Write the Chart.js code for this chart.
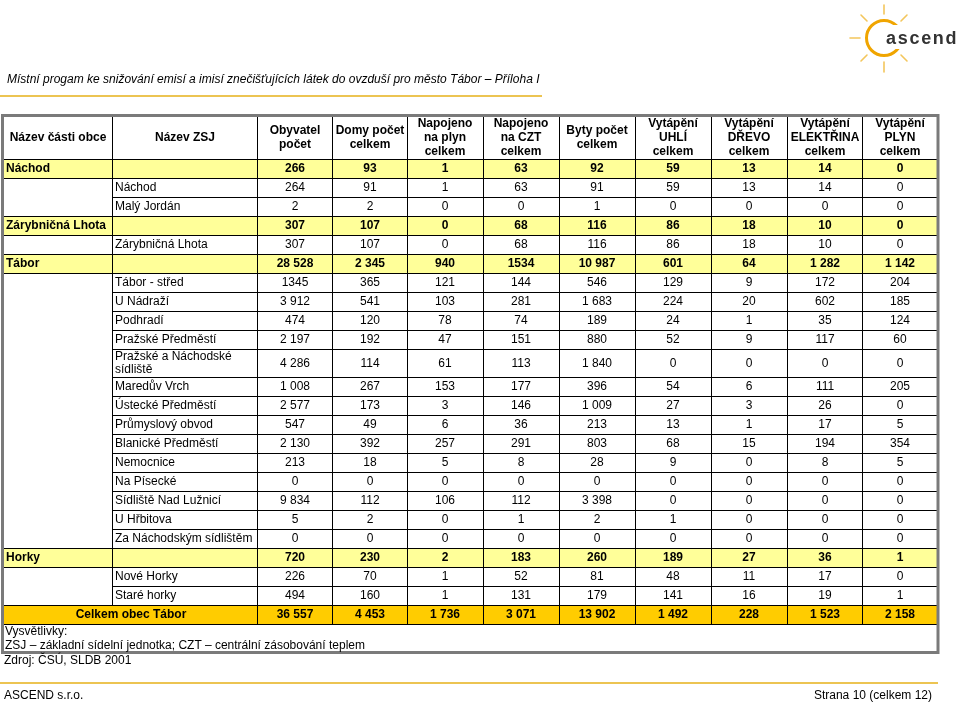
<!DOCTYPE html>
<html><head><meta charset="utf-8">
<script src="https://cdn.jsdelivr.net/npm/chart.js@4.4.1/dist/chart.umd.min.js"></script>
<style>
html,body{margin:0;padding:0;background:#fff;width:960px;height:703px;overflow:hidden;font-family:"Liberation Sans",Arial,sans-serif;color:#000;}
#c{position:absolute;left:0;top:0;}
.t{position:absolute;white-space:nowrap;font-size:12px;line-height:14px;}
.title{left:7px;top:72px;font-style:italic;font-size:12px;}
.gold{position:absolute;height:2px;background:#ecc452;}
svg{position:absolute;left:0;top:0;}
</style></head>
<body>
<canvas id="c" width="960" height="703"></canvas>
<svg width="960" height="80" viewBox="0 0 960 80">
  <g stroke="#f3c65c" stroke-width="1.6" stroke-linecap="round">
    <line x1="884" y1="5" x2="884" y2="14"/>
    <line x1="884" y1="62" x2="884" y2="72"/>
    <line x1="850" y1="38" x2="860" y2="38"/>
    <line x1="861" y1="15" x2="867" y2="21"/>
    <line x1="861" y1="61" x2="867" y2="55"/>
    <line x1="907" y1="15" x2="901" y2="21"/>
    <line x1="907" y1="61" x2="901" y2="55"/>
  </g>
  <circle cx="884" cy="38" r="17.5" fill="none" stroke="#f0a500" stroke-width="3"/>
  <rect x="888" y="25" width="72" height="24" fill="#fff"/>
  <text x="886" y="44" font-family="Liberation Sans, Arial" font-weight="bold" font-size="18" letter-spacing="1.7" fill="#333">ascend</text>
</svg>
<div class="t title">Místní progam ke snižování emisí a imisí znečišťujících látek do ovzduší pro město Tábor – Příloha I</div>
<div class="gold" style="left:0;top:95px;width:542px;"></div>
<div class="t" style="left:5px;top:624px;">Vysvětlivky:</div>
<div class="t" style="left:5px;top:638px;">ZSJ – základní sídelní jednotka; CZT – centrální zásobování teplem</div>
<div class="t" style="left:4px;top:653px;">Zdroj: ČSÚ, SLDB 2001</div>
<div class="gold" style="left:0;top:682px;width:938px;"></div>
<div class="t" style="left:4px;top:688px;">ASCEND s.r.o.</div>
<div class="t" style="right:28px;top:688px;">Strana 10 (celkem 12)</div>
<script>
// ---- data ----
const headerLabels = [
  ['Název části obce'], ['Název ZSJ'], ['Obyvatel','počet'], ['Domy počet','celkem'],
  ['Napojeno','na plyn','celkem'], ['Napojeno','na CZT','celkem'], ['Byty počet','celkem'],
  ['Vytápění','UHLÍ','celkem'], ['Vytápění','DŘEVO','celkem'], ['Vytápění','ELEKTŘINA','celkem'],
  ['Vytápění','PLYN','celkem']
];
const rowLabels = ['Náchod','Náchod','Malý Jordán','Zárybničná Lhota','Zárybničná Lhota','Tábor',
  'Tábor - střed','U Nádraží','Podhradí','Pražské Předměstí','Pražské a Náchodské\nsídliště',
  'Maredův Vrch','Ústecké Předměstí','Průmyslový obvod','Blanické Předměstí','Nemocnice','Na Písecké',
  'Sídliště Nad Lužnicí','U Hřbitova','Za Náchodským sídlištěm','Horky','Nové Horky','Staré horky',
  'Celkem obec Tábor'];
const rowKinds = ['G','S','S','G','S','G','S','S','S','S','S','S','S','S','S','S','S','S','S','S','G','S','S','T'];
const obyvatelPocet   = [266,264,2,307,307,28528,'1345',3912,474,2197,4286,1008,2577,547,2130,213,0,9834,5,0,720,226,494,36557];
const domyPocet       = [93,91,2,107,107,2345,365,541,120,192,114,267,173,49,392,18,0,112,2,0,230,70,160,4453];
const napojenoPlyn    = [1,1,0,0,0,940,121,103,78,47,61,153,3,6,257,5,0,106,0,0,2,1,1,1736];
const napojenoCZT     = [63,63,0,68,68,'1534',144,281,74,151,113,177,146,36,291,8,0,112,1,0,183,52,131,3071];
const bytyPocet       = [92,91,1,116,116,10987,546,1683,189,880,1840,396,1009,213,803,28,0,3398,2,0,260,81,179,13902];
const vytapeniUhli    = [59,59,0,86,86,601,129,224,24,52,0,54,27,13,68,9,0,0,1,0,189,48,141,1492];
const vytapeniDrevo   = [13,13,0,18,18,64,9,20,1,9,0,6,3,1,15,0,0,0,0,0,27,11,16,228];
const vytapeniElektrina = [14,14,0,10,10,1282,172,602,35,117,0,111,26,17,194,8,0,0,0,0,36,17,19,1523];
const vytapeniPlyn    = [0,0,0,0,0,1142,204,185,124,60,0,205,0,5,354,5,0,0,0,0,1,0,1,2158];
const valueColumns = [obyvatelPocet,domyPocet,napojenoPlyn,napojenoCZT,bytyPocet,vytapeniUhli,vytapeniDrevo,vytapeniElektrina,vytapeniPlyn];

// ---- layout (scale units) ----
const colEdges = [4,112,257,332,407,483,559,635,711,787,862,937];
const tableTop = 116, headerBottom = 159, boxBottom = 652;
const rowHeight = 19, tallRowHeight = 28;
const tallRows = [10];

function fmt(v){ return typeof v === 'string' ? v : String(v).replace(/\B(?=(\d{3})+(?!\d))/g,' '); }

const tablePlugin = {
  id:'table',
  afterDraw(chart){
    const ctx = chart.ctx, xs = chart.scales.x, ys = chart.scales.y;
    const px = v => Math.round(xs.getPixelForValue(v));
    const py = v => Math.round(ys.getPixelForValue(v));
    const edges = [headerBottom];
    rowKinds.forEach((k,i)=>edges.push(edges[i] + (tallRows.includes(i)?tallRowHeight:rowHeight)));
    ctx.save();
    // backgrounds
    rowKinds.forEach((k,i)=>{
      if(k==='S') return;
      ctx.fillStyle = k==='G' ? '#ffff99' : '#ffcc00';
      ctx.fillRect(px(colEdges[0]), py(edges[i]), px(colEdges[11])-px(colEdges[0]), py(edges[i+1])-py(edges[i]));
    });
    // grid lines
    ctx.fillStyle = '#000';
    const hLine = (x1,x2,y)=>ctx.fillRect(px(x1), py(y), px(x2)-px(x1), 1);
    const vLine = (x,y1,y2)=>ctx.fillRect(px(x), py(y1), 1, py(y2)-py(y1));
    for(let i=0;i<edges.length;i++){
      const above = rowKinds[i-1], below = rowKinds[i];
      const inner = above==='S' && below==='S';
      hLine(inner?colEdges[1]:colEdges[0], colEdges[11], edges[i]);
    }
    for(let c=1;c<=10;c++){
      if(c===1){
        vLine(colEdges[c], tableTop, edges[rowKinds.length-1]);
      } else vLine(colEdges[c], tableTop, edges[rowKinds.length]);
    }
    // outer border
    ctx.strokeStyle = '#7a7a7a'; ctx.lineWidth = 3;
    ctx.strokeRect(px(colEdges[0])-1.5, py(tableTop)-0.5, px(colEdges[11])-px(colEdges[0])+2.5, py(boxBottom)-py(tableTop)+1);
    // header text
    ctx.fillStyle = '#000'; ctx.textBaseline = 'middle'; ctx.textAlign = 'center';
    ctx.font = 'bold 12px "Liberation Sans", Arial, sans-serif';
    const hc = (tableTop+headerBottom)/2 + 0.5;
    headerLabels.forEach((lines,c)=>{
      const cx = (colEdges[c]+colEdges[c+1])/2;
      lines.forEach((t,j)=>{
        const yy = hc + (j-(lines.length-1)/2)*14;
        ctx.fillText(t, px(cx), py(yy));
      });
    });
    // body text
    rowKinds.forEach((k,i)=>{
      const cy = (edges[i]+edges[i+1])/2 + 0.5;
      const bold = k!=='S';
      ctx.font = (bold?'bold ':'') + '12px "Liberation Sans", Arial, sans-serif';
      ctx.textAlign = 'left';
      if(k==='G'){ ctx.fillText(rowLabels[i], px(colEdges[0]+2), py(cy)); }
      else if(k==='S'){
        const lines = rowLabels[i].split('\n');
        lines.forEach((t,j)=>ctx.fillText(t, px(colEdges[1]+3), py(cy + (j-(lines.length-1)/2)*13)));
      } else {
        ctx.textAlign = 'center';
        ctx.fillText(rowLabels[i], px((colEdges[0]+colEdges[2])/2), py(cy));
      }
      ctx.textAlign = 'center';
      valueColumns.forEach((col,c)=>{
        const cx = (colEdges[c+2]+colEdges[c+3])/2;
        ctx.fillText(fmt(col[i]), px(cx), py(cy));
      });
    });
    ctx.restore();
  }
};

new Chart(document.getElementById('c'), {
  type:'scatter',
  data:{ datasets:[{ data:[], pointRadius:0 }] },
  options:{
    responsive:false, animation:false, devicePixelRatio:1,
    layout:{padding:0},
    plugins:{legend:{display:false}, tooltip:{enabled:false}, title:{display:false}},
    scales:{
      x:{type:'linear', min:0, max:960, display:false},
      y:{type:'linear', min:0, max:703, reverse:true, display:false}
    }
  },
  plugins:[tablePlugin]
});
</script>
</body></html>
